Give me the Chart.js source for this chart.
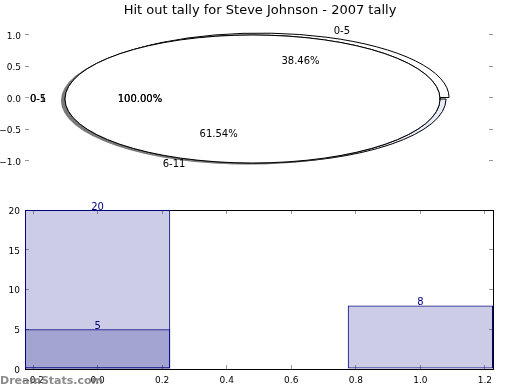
<!DOCTYPE html>
<html><head><meta charset="utf-8">
<script src="https://cdn.jsdelivr.net/npm/chart.js@4/dist/chart.umd.min.js"></script>
<style>
html,body{margin:0;padding:0;background:#fff;}
#wrap{position:relative;width:520px;height:390px;overflow:hidden;background:#fff;}
canvas{position:absolute;left:0;}
#title{position:absolute;left:0;top:2px;width:520px;text-align:center;font:13px "DejaVu Sans";line-height:16px;color:#000;z-index:10;}
#wm{position:absolute;left:0;top:374px;font:bold 11px "DejaVu Sans";line-height:14px;color:rgba(110,110,110,0.8);z-index:11;}
</style></head>
<body><div id="wrap">
<div id="title"></div>
<canvas id="axTop" width="520" height="190" style="top:0;z-index:1"></canvas>
<canvas id="pieB" width="520" height="190" style="top:0;z-index:2"></canvas>
<canvas id="pieC1" width="520" height="190" style="top:0;z-index:3"></canvas>
<canvas id="pieC2" width="520" height="190" style="top:0;z-index:4"></canvas>
<canvas id="bars" width="520" height="200" style="top:190px;z-index:5"></canvas>
<div id="wm">DreamStats.com</div>
</div>
<script>
// ---- data ----
const chartTitle = 'Hit out tally for Steve Johnson - 2007 tally';
const sliceLabels = ['0-5', '6-11'];
const sliceCounts = [5, 8];
const fullPieLabels = ['0-1', '0-5'];
const fullPieCounts = [1, 1];
const topYTicks = [-1, -0.5, 0, 0.5, 1];
const barXA = [0, 1];
const barValuesA = [20, 8];
const barXB = [0];
const barValuesB = [5];
const barXTicks = [-0.2, 0, 0.2, 0.4, 0.6, 0.8, 1.0, 1.2];
const barYTicks = [0, 5, 10, 15, 20];

document.getElementById('title').textContent = chartTitle;
Chart.defaults.font.family = '"DejaVu Sans"';
Chart.defaults.color = '#000';

const PIE_R = 64, PIE_SX = 2.93;
const TICK_COL = '#9a9a9a';
const fmt1 = v => (v < 0 ? '\u2212' : '') + Math.abs(v).toFixed(1);
const base = {responsive:false, animation:false, devicePixelRatio:1,
  plugins:{legend:{display:false}, tooltip:{enabled:false}}};

// ---- top axes (tick marks only) ----
function yTickAxis(pos, ticks, min, max, pad, show, fmt){
  return {position:pos, min:min, max:max,
    afterBuildTicks:s=>{s.ticks = ticks.map(v=>({value:v}));},
    afterFit:s=>{s.width = pos==='left'?25:0;},
    border:{display:false},
    grid:{drawOnChartArea:false, drawTicks:true, tickLength:-4, tickColor:TICK_COL, tickWidth:1},
    ticks:{display:show, padding:pad, labelOffset:1.5, font:{size:9}, color:'#000', callback:v=>fmt(v)}};
}
new Chart(document.getElementById('axTop'), {
  type:'scatter', data:{datasets:[]},
  options:Object.assign({}, base, {
    layout:{padding:{top:19,bottom:11,left:0,right:27}},
    scales:{
      x:{display:false, min:-1, max:1},
      y:yTickAxis('left', topYTicks, -1.25, 1.25, 8, true, fmt1),
      y2:yTickAxis('right', topYTicks, -1.25, 1.25, 8, false, fmt1)
    }})
});

// ---- pies (stretched to ellipse) ----
const stretch = {
  id:'stretch',
  beforeDatasetsDraw(chart, args, o){
    const ctx = chart.ctx, a = chart.chartArea;
    const cx = (a.left+a.right)/2, cy = (a.top+a.bottom)/2;
    ctx.save();
    ctx.translate(cx, cy); ctx.scale(PIE_SX, 1); ctx.translate(-cx, -cy);
    if (o.shadow){ ctx.shadowColor='rgba(77,77,77,0.5)'; ctx.shadowOffsetX=-4; ctx.shadowOffsetY=1.5; ctx.shadowBlur=0; }
    const orig = CanvasRenderingContext2D.prototype.stroke;
    const hideRadial = o.hideRadial;
    ctx.stroke = function(){
      this.save();
      this.setTransform(1,0,0,1,0,0);
      this.shadowColor = 'rgba(0,0,0,0)';
      if (hideRadial){
        const p = new Path2D();
        p.rect(0,0,this.canvas.width,this.canvas.height);
        p.rect(cx-12, cy-2, PIE_R*PIE_SX+11, 4);
        this.clip(p, 'evenodd');
      }
      orig.apply(this, arguments);
      this.restore();
    };
  },
  afterDatasetsDraw(chart){ delete chart.ctx.stroke; chart.ctx.restore(); }
};

const pieB = new Chart(document.getElementById('pieB'), {
  type:'pie',
  data:{labels:sliceLabels.slice().reverse(), datasets:[{data:sliceCounts.slice().reverse(),
    backgroundColor:['#e6ecfa','#ffffff'], borderColor:'#000', borderWidth:1, offset:[0,6], radius:PIE_R}]},
  options:Object.assign({}, base, {rotation:90, layout:{padding:{top:8,bottom:0,left:0,right:3}},
    plugins:{legend:{display:false}, tooltip:{enabled:false}, stretch:{shadow:false, hideRadial:false}}}),
  plugins:[stretch]
});

function fullPie(id, idx, extra){
  return new Chart(document.getElementById(id), {
    type:'pie',
    data:{labels:[fullPieLabels[idx]], datasets:[{data:[fullPieCounts[idx]],
      backgroundColor:'#ffffff', borderColor:'#000', borderWidth:1, radius:PIE_R}]},
    options:Object.assign({}, base, {rotation:90, layout:{padding:{top:8,bottom:0,left:0,right:15}},
      plugins:{legend:{display:false}, tooltip:{enabled:false}, stretch:{shadow:true, hideRadial:true}}}),
    plugins:[stretch].concat(extra||[])
  });
}

function labelPos(chart, arc, frac){
  const a = chart.chartArea, cx = (a.left+a.right)/2;
  const mid = (arc.startAngle+arc.endAngle)/2;
  const circ = arc.endAngle-arc.startAngle;
  const off = (arc.options.offset||0)/4;
  const fix = 1 - Math.sin(Math.min(Math.PI, circ));
  const d = arc.outerRadius*frac + off*(1+fix);
  return {x: cx + PIE_SX*(arc.x - cx + Math.cos(mid)*d), y: arc.y + Math.sin(mid)*d, c: Math.cos(mid)};
}
function drawPieTexts(ctx, chart){
  const meta = chart.getDatasetMeta(0);
  const ds = chart.data.datasets[0];
  const total = ds.data.reduce((s,v)=>s+v,0);
  meta.data.forEach((arc,i)=>{
    const l = labelPos(chart, arc, 1.1);
    ctx.textAlign = l.c > 0 ? 'left' : 'right';
    ctx.fillText(chart.data.labels[i], l.x, l.y);
    const p = labelPos(chart, arc, 0.6);
    ctx.textAlign = 'center';
    ctx.fillText((ds.data[i]/total*100).toFixed(2)+'%', p.x, p.y);
  });
}
let pieC1;
const pieTexts = {
  id:'pieTexts',
  afterDraw(chart){
    const ctx = chart.ctx;
    ctx.save();
    ctx.font = '10px "DejaVu Sans"'; ctx.fillStyle = '#000'; ctx.textBaseline = 'middle';
    drawPieTexts(ctx, pieB);
    drawPieTexts(ctx, pieC1);
    drawPieTexts(ctx, chart);
    ctx.restore();
  }
};
pieC1 = fullPie('pieC1', 0);
fullPie('pieC2', 1, [pieTexts]);

// ---- bar chart ----
const barLabels = {
  id:'barLabels',
  afterDatasetsDraw(chart){
    const ctx = chart.ctx;
    ctx.save();
    ctx.font = '10px "DejaVu Sans"'; ctx.fillStyle = '#000080';
    ctx.textAlign = 'center'; ctx.textBaseline = 'middle';
    chart.data.datasets.forEach((ds,di)=>{
      chart.getDatasetMeta(di).data.forEach((el,i)=>{ ctx.fillText(String(ds.data[i].y), el.x, el.y-2.5); });
    });
    ctx.restore();
  }
};
function xTickAxis(pos, show){
  return {type:'linear', position:pos, min:-0.225, max:1.225, offset:false,
    afterBuildTicks:s=>{s.ticks = barXTicks.map(v=>({value:v}));},
    afterFit:s=>{s.height = pos==='bottom'?21:0;},
    border:{display:true, color:'#000', width:1},
    grid:{offset:false, drawOnChartArea:false, drawTicks:true, tickLength:-4, tickColor:TICK_COL, tickWidth:1},
    ticks:{display:show, padding:10, font:{size:9}, color:'#000', autoSkip:false, maxRotation:0, callback:v=>fmt1(v)}};
}
function yBarAxis(pos, show){
  const ax = yTickAxis(pos, barYTicks, 0, 20, 9, show, v=>String(v));
  ax.border = {display:true, color:'#000', width:1};
  return ax;
}
const barStyle = {xAxisID:'xb', yAxisID:'y', backgroundColor:'rgba(0,0,128,0.2)', borderColor:'#000080',
  borderWidth:1, borderSkipped:false, barPercentage:0.45, categoryPercentage:1, grouped:false};
new Chart(document.getElementById('bars'), {
  type:'bar',
  data:{datasets:[
    Object.assign({label:'a', data:barXA.map((x,i)=>({x:x, y:barValuesA[i]}))}, barStyle),
    Object.assign({label:'b', data:barXB.map((x,i)=>({x:x, y:barValuesB[i]}))}, barStyle)
  ]},
  options:Object.assign({}, base, {
    layout:{padding:{top:20,bottom:0,left:0,right:27}},
    scales:{
      x:xTickAxis('bottom', true),
      x2:xTickAxis('top', false),
      xb:{type:'linear', display:false, offset:false, min:-0.225, max:1.225, grid:{offset:false},
          afterBuildTicks:s=>{s.ticks = barXA.map(v=>({value:v}));}},
      y:yBarAxis('left', true),
      y2:yBarAxis('right', false)
    }}),
  plugins:[barLabels]
});
</script>
</body></html>
